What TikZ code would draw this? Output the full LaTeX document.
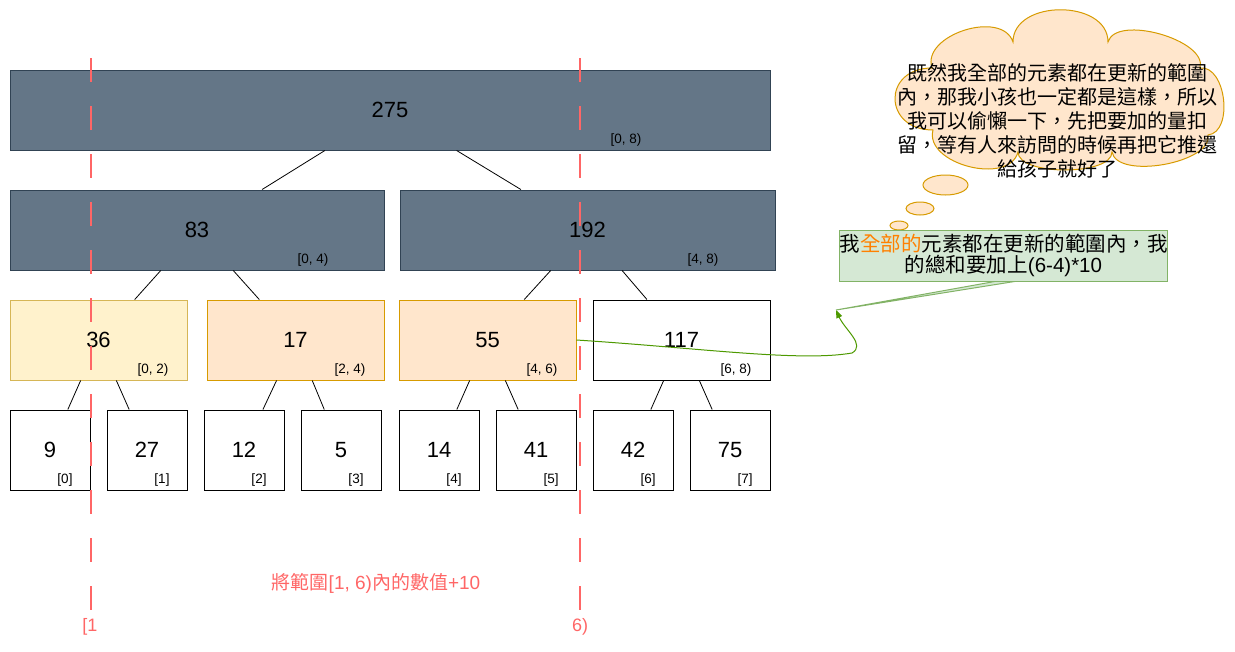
\documentclass[tikz,border=0pt]{standalone}
\usepackage{fontspec}
\setmainfont{Liberation Sans}
\newfontfamily\cjk{Noto Sans CJK TC}
\usetikzlibrary{shapes.geometric,arrows.meta}
\definecolor{darkfill}{HTML}{647687}
\definecolor{darkline}{HTML}{314354}
\definecolor{yelfill}{HTML}{FFF2CC}
\definecolor{yelline}{HTML}{D6B656}
\definecolor{orgfill}{HTML}{FFE6CC}
\definecolor{orgline}{HTML}{D79B00}
\definecolor{grnfill}{HTML}{D5E8D4}
\definecolor{grnline}{HTML}{82B366}
\definecolor{arrowgreen}{HTML}{4D9900}
\definecolor{redline}{HTML}{FF6666}
\definecolor{hiorange}{HTML}{FF8000}
\begin{document}
\begin{tikzpicture}[x=1pt,y=-1pt,
  box/.style={rectangle, draw, line width=1pt, inner sep=0pt, minimum height=80pt, font=\fontsize{22}{26}\selectfont},
  darkbox/.style={box, fill=darkfill, draw=darkline},
  yelbox/.style={box, fill=yelfill, draw=yelline},
  orgbox/.style={box, fill=orgfill, draw=orgline},
  whitebox/.style={box, fill=white, draw=black},
  idx/.style={inner sep=0pt, font=\fontsize{13.5}{16}\selectfont},
  tree/.style={draw=black, line width=0.8pt},
  rangeline/.style={draw=redline, line width=2pt, dash pattern=on 24pt off 24pt},
  redtext/.style={text=redline, inner sep=0pt, font=\fontsize{18}{22}\selectfont},
  bubble/.style={ellipse, draw=orgline, fill=orgfill, line width=1pt, inner sep=0pt},
  cloudshape/.style={draw=orgline, fill=orgfill, line width=1pt},
]
\useasboundingbox (0,0) rectangle (1235,651);

% level 0
\node[darkbox, minimum width=760pt] (root) at (390,110) {275};
% level 1
\node[darkbox, minimum width=374pt] (n83) at (197,230) {83};
\node[darkbox, minimum width=375pt] (n192) at (587.5,230) {192};
% level 2
\node[yelbox, minimum width=177pt] (n36) at (98.5,340) {36};
\node[orgbox, minimum width=177pt] (n17) at (295.5,340) {17};
\node[orgbox, minimum width=177pt] (n55) at (487.5,340) {55};
\node[whitebox, minimum width=177pt] (n117) at (681.5,340) {117};
% leaves
\node[whitebox, minimum width=80pt] (l0) at (50,450) {9};
\node[whitebox, minimum width=80pt] (l1) at (147,450) {27};
\node[whitebox, minimum width=80pt] (l2) at (244,450) {12};
\node[whitebox, minimum width=80pt] (l3) at (341,450) {5};
\node[whitebox, minimum width=80pt] (l4) at (439,450) {14};
\node[whitebox, minimum width=80pt] (l5) at (536,450) {41};
\node[whitebox, minimum width=80pt] (l6) at (633,450) {42};
\node[whitebox, minimum width=80pt] (l7) at (730,450) {75};

% range labels
\node[idx] (i08) at (626,140) {[0, 8)};
\node[idx] (i04) at (313,260) {[0, 4)};
\node[idx] (i48) at (703,260) {[4, 8)};
\node[idx] (i02) at (153,370) {[0, 2)};
\node[idx] (i24) at (350,370) {[2, 4)};
\node[idx] (i46) at (542,370) {[4, 6)};
\node[idx] (i68) at (736,370) {[6, 8)};
\node[idx] (k0) at (65,480) {[0]};
\node[idx] (k1) at (162,480) {[1]};
\node[idx] (k2) at (259,480) {[2]};
\node[idx] (k3) at (356,480) {[3]};
\node[idx] (k4) at (454,480) {[4]};
\node[idx] (k5) at (551,480) {[5]};
\node[idx] (k6) at (648,480) {[6]};
\node[idx] (k7) at (745,480) {[7]};

% tree edges
\draw[tree] (root) -- (n83);
\draw[tree] (root) -- (n192);
\draw[tree] (n83) -- (n36);
\draw[tree] (n83) -- (n17);
\draw[tree] (n192) -- (n55);
\draw[tree] (n192) -- (n117);
\draw[tree] (n36) -- (l0);
\draw[tree] (n36) -- (l1);
\draw[tree] (n17) -- (l2);
\draw[tree] (n17) -- (l3);
\draw[tree] (n55) -- (l4);
\draw[tree] (n55) -- (l5);
\draw[tree] (n117) -- (l6);
\draw[tree] (n117) -- (l7);

% range markers
\coordinate (d1top) at (91,58);
\coordinate (d1bot) at (91,610);
\coordinate (d2top) at (580,58);
\coordinate (d2bot) at (580,610);
\draw[rangeline] (d1top) -- (d1bot);
\draw[rangeline] (d2top) -- (d2bot);
\node[redtext] (lbl1) at (90,627) {[1};
\node[redtext] (lbl6) at (580,627) {6)};
\node[redtext, font=\fontsize{19}{22}\selectfont] (task) at (376,583) {{\cjk 將範圍}[1, 6){\cjk 內的數值}+10};

% thought cloud
\draw[cloudshape] (932,68)
  .. controls (921,35) and (1002,9) .. (1013,42)
  .. controls (1013,-1) and (1108,-1) .. (1108,42)
  .. controls (1116,14) and (1208,40) .. (1200,68)
  .. controls (1226,65) and (1234,132) .. (1208,135)
  .. controls (1213,163) and (1117,180) .. (1112,152)
  .. controls (1112,176) and (1018,176) .. (1018,152)
  .. controls (1009,186) and (924,164) .. (933,130)
  .. controls (883,130) and (882,68) .. cycle;
\node[align=center, inner sep=0pt, font=\fontsize{20}{24}\selectfont\cjk] (cloudtext) at (1057.5,120.5)
  {既然我全部的元素都在更新的範圍\\內，那我小孩也一定都是這樣，所以\\我可以偷懶一下，先把要加的量扣\\留，等有人來訪問的時候再把它推還\\給孩子就好了};
\node[bubble, minimum width=45pt, minimum height=20pt] (b1) at (945.5,185) {};
\node[bubble, minimum width=28pt, minimum height=13pt] (b2) at (920,208.5) {};
\node[bubble, minimum width=18pt, minimum height=9pt] (b3) at (899,225.5) {};

% callout
\coordinate (tip) at (836,310);
\coordinate (w1) at (1003,280);
\coordinate (w2) at (1024,280);
\draw[draw=grnline, fill=grnfill, line width=1pt] (w1) -- (tip) -- (w2);
\node[draw=grnline, fill=grnfill, line width=1pt, minimum width=327pt, minimum height=51pt,
      inner sep=0pt, align=center, font=\fontsize{20.5}{21}\selectfont] (gbox) at (1003.5,255.5)
  {{\cjk 我\textcolor{hiorange}{全部的}元素都在更新的範圍內，我}\\{\cjk 的總和要加上}(6-4)*10};

% curved arrow
\draw[draw=arrowgreen, line width=1pt, -{Triangle[length=8pt,width=6pt]}]
  (n55.east) .. controls (700,348) and (800,362) .. (852,353)
  .. controls (866,345) and (845,330) .. (tip);
\end{tikzpicture}
\end{document}
